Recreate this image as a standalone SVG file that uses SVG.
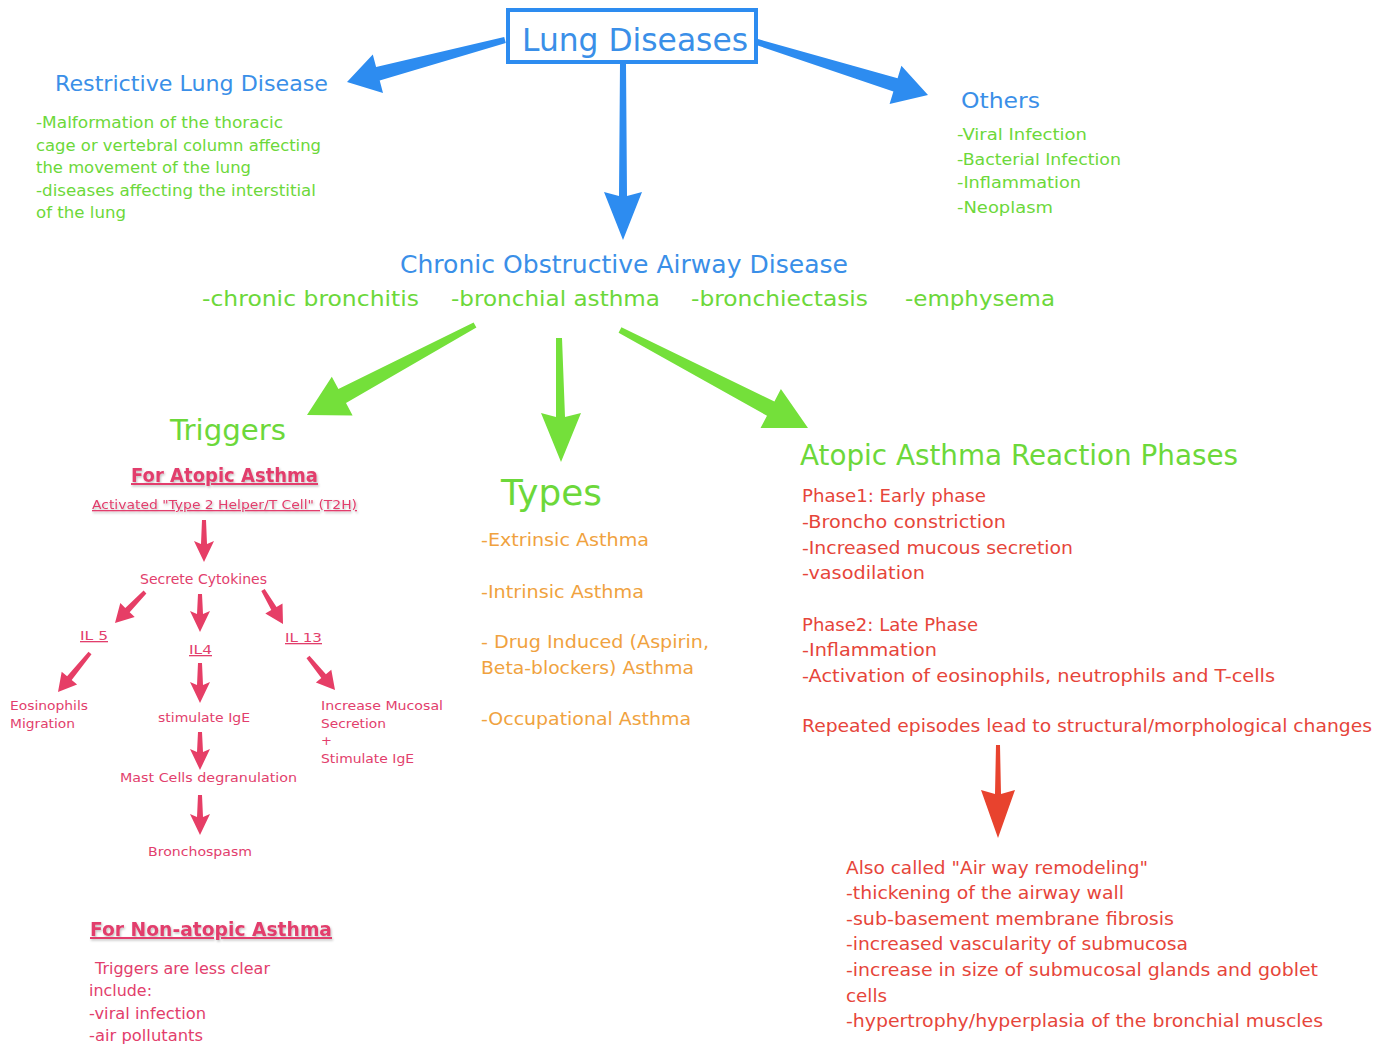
<svg xmlns="http://www.w3.org/2000/svg" width="1391" height="1045" viewBox="0 0 1391 1045">
<defs>
<style>
text{font-family:"DejaVu Sans","Liberation Sans",sans-serif;}
.blue{fill:#3a8fe8;}
.green{fill:#6cd83a;}
.pink{fill:#e23e6c;}
.orange{fill:#f0a23e;}
.red{fill:#e6453a;}
.ul{text-decoration:underline;}
.ab{fill:#2d8cf0;}
.ag{fill:#74e03a;}
.ap{fill:#e63e66;}
.ar{fill:#e8432e;}
</style>
<filter id="sh" x="-5%" y="-20%" width="110%" height="150%">
<feDropShadow dx="1" dy="1.5" stdDeviation="0.8" flood-color="#000" flood-opacity="0.25"/>
</filter>
</defs>
<rect width="1391" height="1045" fill="#fff"/>

<g id="connectors">
<polygon class="ab" points="504.2,37.1 376.1,67 372.8,54.5 347,82 383,93.1 379.7,80.6 505.8,42.9"/>
<polygon class="ab" points="756.1,44.9 893.4,91.6 889.6,104 928,95 901.4,65.8 897.6,78.2 757.9,39.1"/>
<polygon class="ab" points="620,63 619,196 604,192 623,240 642,192 627,196 626,63"/>
<polygon class="ag" points="473.6,322.4 338.4,389.1 331.8,376.7 307,415 352.6,415.5 346,403.1 476.4,327.6"/>
<polygon class="ag" points="556,338 556,417 541,413 561,462 581,413 565,417 562,338"/>
<polygon class="ag" points="618.6,332.7 767,415.7 760.5,428.1 808,428 780.9,389.1 774.4,401.5 621.4,327.3"/>
<polygon class="ar" points="996,745 995,794 981,790 998,838 1015,790 1001,794 1000,745"/>
<polygon class="ap" points="202,520 201,544 194,541 204,562 214,541 207,544 206,520"/>
<polygon class="ap" points="143.6,590.6 125.3,608 120.3,603.1 115,623 134.7,617.1 129.7,612.2 146.4,593.4"/>
<polygon class="ap" points="198,594 197,614 190,611 200,632 210,611 203,614 202,594"/>
<polygon class="ap" points="261.3,591 271.3,610 265.3,613.6 283,624 282.5,603.4 276.5,607 264.7,589"/>
<polygon class="ap" points="88.5,651.7 67.1,676.2 61.7,671.8 58,692 77.1,684.4 71.7,680 91.5,654.3"/>
<polygon class="ap" points="198,663 197,685 190,682 200,703 210,682 203,685 202,663"/>
<polygon class="ap" points="306.5,658.3 321.3,678 315.9,682.4 335,690 331.3,669.8 325.9,674.2 309.5,655.7"/>
<polygon class="ap" points="198,732 197,752 190,749 200,770 210,749 203,752 202,732"/>
<polygon class="ap" points="198,795 197,817 190,814 200,835 210,814 203,817 202,795"/>
</g>

<g id="lung-diseases">
<rect x="508" y="10" width="248" height="52" fill="#fff" stroke="#2d8cf0" stroke-width="4"/>
<text class="blue" x="522" y="51" font-size="32" textLength="226" lengthAdjust="spacingAndGlyphs">Lung Diseases</text>
</g>

<g id="restrictive">
<text class="blue" x="55" y="91" font-size="22" textLength="273" lengthAdjust="spacingAndGlyphs">Restrictive Lung Disease</text>
<g class="green" font-size="16">
<text x="36" y="128" textLength="247" lengthAdjust="spacingAndGlyphs">-Malformation of the thoracic</text>
<text x="36" y="151" textLength="285" lengthAdjust="spacingAndGlyphs">cage or vertebral column affecting</text>
<text x="36" y="173" textLength="215" lengthAdjust="spacingAndGlyphs">the movement of the lung</text>
<text x="36" y="196" textLength="280" lengthAdjust="spacingAndGlyphs">-diseases affecting the interstitial</text>
<text x="36" y="218" textLength="90" lengthAdjust="spacingAndGlyphs">of the lung</text>
</g>
</g>

<g id="others">
<text class="blue" x="961" y="108" font-size="22" textLength="79" lengthAdjust="spacingAndGlyphs">Others</text>
<g class="green" font-size="16">
<text x="957" y="140" textLength="130" lengthAdjust="spacingAndGlyphs">-Viral Infection</text>
<text x="957" y="165" textLength="164" lengthAdjust="spacingAndGlyphs">-Bacterial Infection</text>
<text x="957" y="188" textLength="124" lengthAdjust="spacingAndGlyphs">-Inflammation</text>
<text x="957" y="213" textLength="96" lengthAdjust="spacingAndGlyphs">-Neoplasm</text>
</g>
</g>

<g id="coad">
<text class="blue" x="400" y="273" font-size="24" textLength="448" lengthAdjust="spacingAndGlyphs">Chronic Obstructive Airway Disease</text>
<g class="green" font-size="22">
<text x="202" y="306" textLength="217" lengthAdjust="spacingAndGlyphs">-chronic bronchitis</text>
<text x="451" y="306" textLength="209" lengthAdjust="spacingAndGlyphs">-bronchial asthma</text>
<text x="691" y="306" textLength="177" lengthAdjust="spacingAndGlyphs">-bronchiectasis</text>
<text x="905" y="306" textLength="150" lengthAdjust="spacingAndGlyphs">-emphysema</text>
</g>
</g>

<g id="triggers">
<text class="green" x="170" y="440" font-size="29" textLength="116" lengthAdjust="spacingAndGlyphs">Triggers</text>
<text class="pink ul" x="131" y="482" font-size="20" font-weight="bold" filter="url(#sh)" textLength="187" lengthAdjust="spacingAndGlyphs">For Atopic Asthma</text>
<text class="pink ul" x="92" y="509" font-size="13" filter="url(#sh)" textLength="265" lengthAdjust="spacingAndGlyphs">Activated "Type 2 Helper/T Cell" (T2H)</text>
<g class="pink" font-size="13">
<text x="140" y="584" font-size="14" textLength="127" lengthAdjust="spacingAndGlyphs">Secrete Cytokines</text>
<text class="ul" x="80" y="640" textLength="28" lengthAdjust="spacingAndGlyphs">IL 5</text>
<text class="ul" x="189" y="654" textLength="23" lengthAdjust="spacingAndGlyphs">IL4</text>
<text class="ul" x="285" y="642" textLength="37" lengthAdjust="spacingAndGlyphs">IL 13</text>
<text x="10" y="710" textLength="78" lengthAdjust="spacingAndGlyphs">Eosinophils</text>
<text x="10" y="728" textLength="65" lengthAdjust="spacingAndGlyphs">Migration</text>
<text x="158" y="722" textLength="92" lengthAdjust="spacingAndGlyphs">stimulate IgE</text>
<text x="321" y="710" textLength="122" lengthAdjust="spacingAndGlyphs">Increase Mucosal</text>
<text x="321" y="728" textLength="65" lengthAdjust="spacingAndGlyphs">Secretion</text>
<text x="321" y="745">+</text>
<text x="321" y="763" textLength="93" lengthAdjust="spacingAndGlyphs">Stimulate IgE</text>
<text x="120" y="782" textLength="177" lengthAdjust="spacingAndGlyphs">Mast Cells degranulation</text>
<text x="148" y="856" textLength="104" lengthAdjust="spacingAndGlyphs">Bronchospasm</text>
</g>
<text class="pink ul" x="90" y="936" font-size="20" font-weight="bold" filter="url(#sh)" textLength="242" lengthAdjust="spacingAndGlyphs">For Non-atopic Asthma</text>
<g class="pink" font-size="15">
<text x="95" y="974" textLength="175" lengthAdjust="spacingAndGlyphs">Triggers are less clear</text>
<text x="89" y="996" textLength="63" lengthAdjust="spacingAndGlyphs">include:</text>
<text x="89" y="1019" textLength="117" lengthAdjust="spacingAndGlyphs">-viral infection</text>
<text x="89" y="1041" textLength="114" lengthAdjust="spacingAndGlyphs">-air pollutants</text>
</g>
</g>

<g id="types">
<text class="green" x="501" y="505" font-size="36" textLength="101" lengthAdjust="spacingAndGlyphs">Types</text>
<g class="orange" font-size="17">
<text x="481" y="546" textLength="168" lengthAdjust="spacingAndGlyphs">-Extrinsic Asthma</text>
<text x="481" y="598" textLength="163" lengthAdjust="spacingAndGlyphs">-Intrinsic Asthma</text>
<text x="481" y="648" textLength="228" lengthAdjust="spacingAndGlyphs">- Drug Induced (Aspirin,</text>
<text x="481" y="674" textLength="213" lengthAdjust="spacingAndGlyphs">Beta-blockers) Asthma</text>
<text x="481" y="725" textLength="210" lengthAdjust="spacingAndGlyphs">-Occupational Asthma</text>
</g>
</g>

<g id="phases">
<text class="green" x="800" y="465" font-size="28" textLength="438" lengthAdjust="spacingAndGlyphs">Atopic Asthma Reaction Phases</text>
<g class="red" font-size="18">
<text x="802" y="502" textLength="184" lengthAdjust="spacingAndGlyphs">Phase1: Early phase</text>
<text x="802" y="528" textLength="204" lengthAdjust="spacingAndGlyphs">-Broncho constriction</text>
<text x="802" y="554" textLength="271" lengthAdjust="spacingAndGlyphs">-Increased mucous secretion</text>
<text x="802" y="579" textLength="123" lengthAdjust="spacingAndGlyphs">-vasodilation</text>
<text x="802" y="631" textLength="176" lengthAdjust="spacingAndGlyphs">Phase2: Late Phase</text>
<text x="802" y="656" textLength="135" lengthAdjust="spacingAndGlyphs">-Inflammation</text>
<text x="802" y="682" textLength="473" lengthAdjust="spacingAndGlyphs">-Activation of eosinophils, neutrophils and T-cells</text>
<text x="802" y="732" textLength="570" lengthAdjust="spacingAndGlyphs">Repeated episodes lead to structural/morphological changes</text>
</g>
</g>

<g id="remodeling">
<g class="red" font-size="18">
<text x="846" y="874" textLength="302" lengthAdjust="spacingAndGlyphs">Also called "Air way remodeling"</text>
<text x="846" y="899" textLength="278" lengthAdjust="spacingAndGlyphs">-thickening of the airway wall</text>
<text x="846" y="925" textLength="328" lengthAdjust="spacingAndGlyphs">-sub-basement membrane fibrosis</text>
<text x="846" y="950" textLength="342" lengthAdjust="spacingAndGlyphs">-increased vascularity of submucosa</text>
<text x="846" y="976" textLength="472" lengthAdjust="spacingAndGlyphs">-increase in size of submucosal glands and goblet</text>
<text x="846" y="1002" textLength="41" lengthAdjust="spacingAndGlyphs">cells</text>
<text x="846" y="1027" textLength="477" lengthAdjust="spacingAndGlyphs">-hypertrophy/hyperplasia of the bronchial muscles</text>
</g>
</g>
</svg>
